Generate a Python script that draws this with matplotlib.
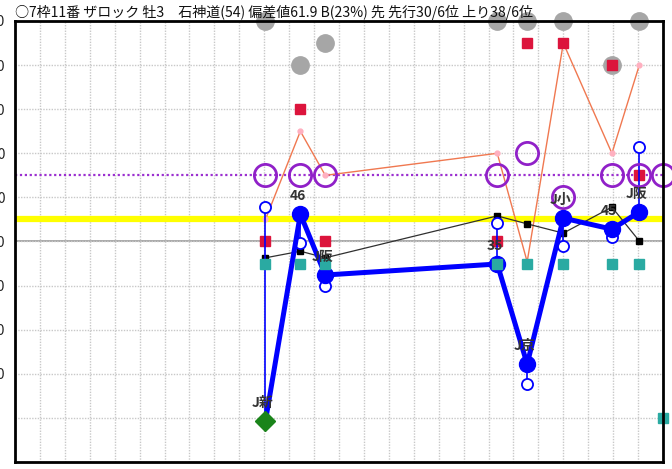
import matplotlib
matplotlib.use('Agg')
import matplotlib.pyplot as plt

plt.rcParams['font.family'] = ['Noto Sans CJK JP', 'DejaVu Sans']

title = "○7枠11番 ザロック 牡3　石神道(54) 偏差値61.9 B(23%) 先 先行30/6位 上り38/6位"

race_x = [10.05, 11.45, 12.45, 19.35, 20.55, 22.0, 23.95, 25.05]
race_labels = ["J新", "46", "J阪", "35", "J京", "J小", "45", "J阪"]
perf = [9.3, 56.2, 42.4, 44.9, 22.2, 55.3, 52.8, 56.7]
perf_open = [57.8, 49.7, 39.9, 54.2, 17.7, 49.0, 51.0, 71.4]
gray_vals = [100, 90, 95, 100, 100, 100, 90, 100]
red_vals = [50, 80, 50, 50, 95, 95, 90, 65]
orange_vals = [55, 75, 65, 70, 45.4, 95, 70, 90]
black_vals = [46.3, 47.8, 46.3, 55.8, 54.0, 51.9, 57.8, 50.1]
teal_vals = [45, 45, 45, 45, 45, 45, 45, 45]
purple_vals = [65, 65, 65, 65, 70, 60, 65, 65]
next_x = 26.0
next_teal = 10
next_purple = 65
yellow_level = 55.1
purple_level = 65

y_ticks = [0, 10, 20, 30, 40, 50, 60, 70, 80, 90, 100]
y_ticklabels = ["", "", "20", "30", "40", "50", "60", "70", "80", "90", "100"]
x_label_pos = [0.4, 5.33, 10.5, 16.03, 20.96, 25.7]
x_labels = ["21/07/04", "21/09/12", "21/11/21", "22/01/30", "22/04/10", "22/06/19"]

fig = plt.figure(figsize=(6.72, 4.69), dpi=100)
ax = fig.add_axes([15/672, 7/469, 648/672, 441/469])
ax.set_xlim(0, 26)
ax.set_ylim(0, 100)

# grid
ax.set_xticks(range(0, 27), minor=True)
ax.set_xticks(x_label_pos)
ax.set_xticklabels(x_labels, fontsize=9, color='#999999')
ax.set_yticks(y_ticks)
ax.set_yticklabels(y_ticklabels, fontsize=10, color='#222222')
ax.tick_params(axis='both', which='both', length=0)
ax.tick_params(axis='y', pad=7)
ax.tick_params(axis='x', pad=6)
ax.grid(which='minor', axis='x', color='#c8c8c8', linestyle=(0, (1, 1)), linewidth=1)
ax.grid(which='major', axis='x', visible=False)
ax.grid(which='major', axis='y', color='#c8c8c8', linestyle=(0, (1, 1)), linewidth=1)
ax.axhline(50, color='#9a9a9a', linewidth=1.2, zorder=1)
for s in ax.spines.values():
    s.set_color('black')
    s.set_linewidth(2)
    s.set_zorder(10)

# reference lines
ax.axhline(yellow_level, color='#ffff00', linewidth=4.5, zorder=2)
ax.axhline(purple_level, color='#9b30d0', linewidth=1.6, linestyle=(0, (1, 1.2)), zorder=2)

# orange line with pink points
ax.plot(race_x, orange_vals, color='#f07850', linewidth=1, zorder=3)
ax.plot(race_x, orange_vals, linestyle='none', marker='o', markersize=3.5,
        color='#ffb0c0', zorder=3.5)

# black line
ax.plot(race_x, black_vals, color='#303030', linewidth=0.9, marker='s', markersize=3.8,
        markerfacecolor='black', markeredgecolor='black', zorder=4)

# gray circles
ax.plot(race_x, gray_vals, linestyle='none', marker='o', markersize=12.5,
        color='#a6a6a6', clip_on=False, zorder=5)

# red squares
ax.plot(race_x, red_vals, linestyle='none', marker='s', markersize=7.2,
        color='#dc143c', clip_on=False, zorder=6)

# thin blue verticals and open circles
for x, a, b in zip(race_x, perf, perf_open):
    ax.plot([x, x], [a, b], color='#0000ff', linewidth=1.2, zorder=7)
ax.plot(race_x, perf_open, linestyle='none', marker='o', markersize=8,
        markerfacecolor='white', markeredgecolor='#0000ff', markeredgewidth=1.3, zorder=7.5)

# thick blue line
ax.plot(race_x, perf, color='#0000ff', linewidth=3.6, zorder=8)
ax.plot(race_x[1:], perf[1:], linestyle='none', marker='o', markersize=11.5,
        color='#0000ff', zorder=8.5)
ax.plot(race_x[:1], perf[:1], linestyle='none', marker='D', markersize=10,
        color='#1a841a', zorder=9)

# teal squares
ax.plot(race_x + [next_x], teal_vals + [next_teal], linestyle='none', marker='s',
        markersize=7.2, color='#2aaaa2', clip_on=False, zorder=9)

# purple open circles
ax.plot(race_x + [next_x], purple_vals + [next_purple], linestyle='none', marker='o',
        markersize=16, markerfacecolor='none', markeredgecolor='#9020c8',
        markeredgewidth=2, clip_on=False, zorder=9.5)

# labels
for x, v, lab in zip(race_x, perf, race_labels):
    ax.annotate(lab, (x, v), xytext=(-2, 13), textcoords='offset points',
                ha='center', va='center', fontsize=10, fontweight='bold',
                color='#333333', zorder=11)

fig.text(15/672, 1 - 12.5/469, title, fontsize=10.1, va='center', ha='left', color='#111111')

fig.savefig('out.png', dpi=100)
